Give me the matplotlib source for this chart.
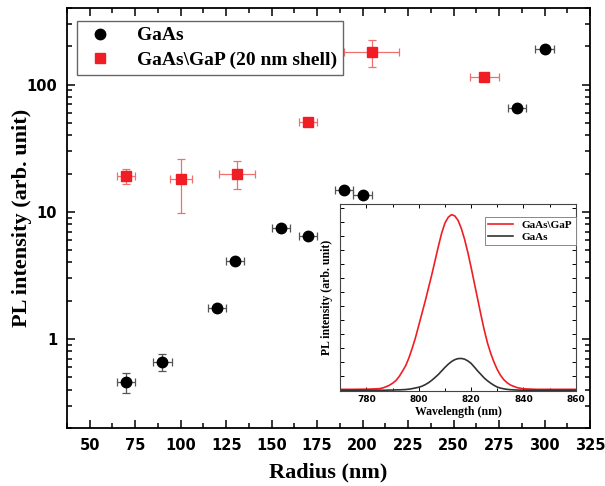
import matplotlib
matplotlib.use("Agg")
import matplotlib.pyplot as plt
from matplotlib.lines import Line2D
from matplotlib.ticker import FixedLocator, MultipleLocator, NullFormatter, LogLocator

# PL intensity vs nanowire radius
gaas_r = [70, 90, 120, 130, 155, 170, 190, 200, 285, 300]
gaas_pl = [0.46, 0.66, 1.77, 4.1, 7.4, 6.5, 14.9, 13.5, 65, 189]
gaas_rerr = [5, 5, 5, 5, 5, 5, 5, 5, 5, 5]
gaas_pl_lo = [0.08, 0.10, 0, 0, 0, 0, 0, 0, 0, 0]
gaas_pl_hi = [0.08, 0.10, 0, 0, 0, 0, 0, 0, 0, 0]

shell_r = [70, 100, 131, 170, 205, 267]
shell_pl = [19.1, 18.0, 20.0, 51, 181, 114]
shell_rerr = [5, 6, 10, 5, 15, 8]
shell_pl_lo = [2.5, 8.2, 4.9, 0, 43, 0]
shell_pl_hi = [2.7, 8.0, 5.0, 0, 43, 0]

# inset: PL spectra (normalised to the shell peak)
wl = [770, 775, 780, 782.5,
      785, 786.25, 787.5, 788.75, 790, 791.25, 792.5, 793.75, 795, 796.25,
      797.5, 798.75, 800, 801.25, 802.5, 803.75, 805, 806.25, 807.5, 808.75,
      810, 811.25, 812.5, 813.75, 815, 816.25, 817.5, 818.75, 820, 821.25,
      822.5, 823.75, 825, 826.25, 827.5, 828.75, 830, 831.25, 832.5, 833.75,
      835,
      837.5, 840, 845, 850, 855, 860]
spec_shell = [0.005, 0.005, 0.006, 0.007,
              0.009, 0.013, 0.02, 0.028, 0.04, 0.055, 0.078, 0.108, 0.14,
              0.185, 0.24, 0.30, 0.37, 0.44, 0.51, 0.585, 0.66, 0.74, 0.82,
              0.895, 0.952, 0.985, 1.0, 0.993, 0.968, 0.922, 0.86, 0.785,
              0.70, 0.61, 0.52, 0.43, 0.345, 0.27, 0.21, 0.16, 0.118, 0.085,
              0.06, 0.043, 0.03,
              0.015, 0.008, 0.005, 0.005, 0.005, 0.005]
spec_gaas = [0, 0, 0, 0,
             0, 0, 0, 0.001, 0.001, 0.002, 0.002, 0.003, 0.004, 0.006,
             0.009, 0.013, 0.017, 0.023, 0.032, 0.043, 0.057, 0.073, 0.09,
             0.11, 0.13, 0.148, 0.163, 0.174, 0.18, 0.181, 0.177, 0.167,
             0.153, 0.132, 0.11, 0.09, 0.07, 0.054, 0.04, 0.028, 0.018,
             0.012, 0.008, 0.005, 0.003,
             0.001, 0, 0, 0, 0, 0]

RED = "#f01e24"
SERIF = "Liberation Serif"
SANS = "DejaVu Sans"

fig = plt.figure(figsize=(6.05, 4.86), dpi=100)
ax = fig.add_axes([0.1107, 0.1193, 0.8645, 0.8642])

ax.errorbar(gaas_r, gaas_pl, xerr=gaas_rerr, yerr=[gaas_pl_lo, gaas_pl_hi],
            fmt="o", color="black", ms=7.5, ecolor="#555555", elinewidth=0.9,
            capsize=3, capthick=0.9, zorder=3)
ax.errorbar(shell_r, shell_pl, xerr=shell_rerr, yerr=[shell_pl_lo, shell_pl_hi],
            fmt="s", color=RED, ms=7, ecolor="#f07070", elinewidth=0.9,
            capsize=3, capthick=0.9, zorder=3)

ax.set_yscale("log")
ax.set_xlim(37.5, 325)
ax.set_ylim(0.2, 400)
ax.xaxis.set_major_locator(MultipleLocator(25))
ax.xaxis.set_minor_locator(MultipleLocator(12.5))
ax.yaxis.set_major_locator(FixedLocator([1, 10, 100]))
ax.yaxis.set_minor_locator(LogLocator(base=10, subs=range(2, 10)))
ax.yaxis.set_minor_formatter(NullFormatter())
ax.set_yticklabels(["1", "10", "100"])

ax.tick_params(which="both", direction="in", top=True, right=True, width=1.1)
ax.tick_params(which="major", length=6, pad=7)
ax.tick_params(which="minor", length=3.5)
for lab in ax.get_xticklabels() + ax.get_yticklabels():
    lab.set_fontfamily(SANS)
    lab.set_fontweight("bold")
    lab.set_fontsize(10.5)
for sp in ax.spines.values():
    sp.set_linewidth(1.3)

ax.set_xlabel("Radius (nm)", family=SERIF, weight="bold", fontsize=16)
ax.set_ylabel("PL intensity (arb. unit)", family=SERIF, weight="bold", fontsize=16)
ax.xaxis.set_label_coords(0.5, -0.083)
ax.yaxis.set_label_coords(-0.066, 0.5)

handles = [
    Line2D([], [], ls="none", marker="o", color="black", ms=7.5),
    Line2D([], [], ls="none", marker="s", color=RED, ms=7),
]
leg = ax.legend(handles, ["GaAs", "GaAs\\GaP (20 nm shell)"],
                loc="upper left", bbox_to_anchor=(0.019, 0.969), borderaxespad=0,
                prop={"family": SERIF, "weight": "bold", "size": 14},
                fancybox=False, edgecolor="#666666", framealpha=1,
                handletextpad=1.0, borderpad=0.3, labelspacing=0.35,
                handlelength=1.8)
leg.get_frame().set_linewidth(1.0)

# inset spectra
ins = fig.add_axes([0.5625, 0.1949, 0.3891, 0.3860])
ins.plot(wl, spec_shell, color=RED, lw=1.2, label="GaAs\\GaP")
ins.plot(wl, spec_gaas, color="#333333", lw=1.2, label="GaAs")
ins.set_xlim(770, 860)
ins.set_ylim(-0.006, 1.0625)
ins.xaxis.set_major_locator(MultipleLocator(20))
ins.xaxis.set_minor_locator(MultipleLocator(10))
ins.yaxis.set_major_locator(MultipleLocator(0.08))
ins.yaxis.set_major_formatter(NullFormatter())
ins.tick_params(which="both", direction="in", top=True, right=True, width=0.7,
                pad=3)
ins.tick_params(which="major", length=3)
ins.tick_params(which="minor", length=2)
for lab in ins.get_xticklabels():
    lab.set_fontfamily(SANS)
    lab.set_fontweight("bold")
    lab.set_fontsize(6.5)
for sp in ins.spines.values():
    sp.set_linewidth(0.8)
    sp.set_edgecolor("#444444")
ins.set_xlabel("Wavelength (nm)", family=SERIF, weight="bold", fontsize=8.5,
               labelpad=1)
ins.set_ylabel("PL intensity (arb. unit)", family=SERIF, weight="bold",
               fontsize=8.5, labelpad=2)
ileg = ins.legend(loc="upper right", bbox_to_anchor=(1.0, 0.93), borderaxespad=0,
                  prop={"family": SERIF, "weight": "bold", "size": 8},
                  fancybox=False, edgecolor="#888888", framealpha=1,
                  handlelength=2.2, borderpad=0.3, labelspacing=0.2)
ileg.get_frame().set_linewidth(0.7)

fig.savefig("out.png", dpi=100)
